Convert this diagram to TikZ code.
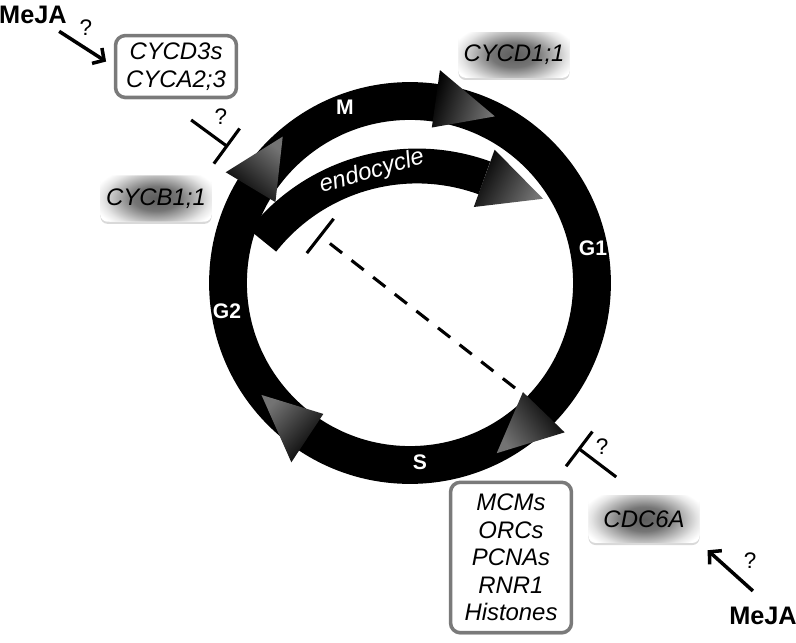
\documentclass[tikz,border=0pt]{standalone}
\usepackage{fontspec}
\setmainfont{Liberation Sans}
\usetikzlibrary{arrows.meta,shadows}

\pgfdeclareradialshading{glow}{\pgfpoint{0bp}{0bp}}{%
  color(0bp)=(black!64); color(9bp)=(black!54); color(21bp)=(black!10); color(25bp)=(white); color(50bp)=(white)}

% base angle, tip angle, tip radius, shading angle
\newcommand{\cyclehead}[4]{%
  \shade[headshade, shading angle=#4] (#1:157) -- (#1:215) -- (#2:#3) -- cycle;}

\begin{document}
\begin{tikzpicture}[x=0.025cm, y=-0.025cm,
    bigtext/.style={font=\itshape\fontsize{17}{19.5}\selectfont},
    framebox/.style={bigtext, draw=black!52, line width=2.5pt, fill=white,
      rounded corners=7pt, align=center, inner sep=0pt,
      drop shadow={shadow xshift=0pt, shadow yshift=-1.5pt, opacity=.3}},
    glowbox/.style={bigtext, fill=white, rounded corners=5pt, inner sep=0pt,
      drop shadow={shadow xshift=0pt, shadow yshift=-1.5pt, opacity=.3},
      path picture={\shade[shading=glow] (path picture bounding box.center)
        ellipse [x radius=45pt, y radius=24pt];}},
    phase/.style={text=white, font=\bfseries\fontsize{15}{17}\selectfont},
    hormone/.style={font=\bfseries\fontsize{18}{21}\selectfont},
    query/.style={font=\fontsize{16}{18}\selectfont, inner sep=0pt},
    headshade/.style={bottom color=black, top color=black!55},
    actarrow/.style={line width=2.5pt, -{Straight Barb[length=6pt, width=13pt]}},
    inhib/.style={line width=2.2pt, -{Bar[width=31pt]}}
  ]
  \useasboundingbox (0,0) rectangle (796,643);

  % cell cycle ring
  \begin{scope}[shift={(410,283)}, yscale=-1]
    \draw[line width=26.9pt] (0,0) circle (182);
    \cyclehead{149}{131}{194}{-40}
    \cyclehead{82}{63}{187}{-107.5}
    \cyclehead{-44}{-63}{191}{126.5}
    \cyclehead{-123.5}{-143}{186}{46.75}
  \end{scope}

  % endocycle
  \begin{scope}[shift={(417,363)}, yscale=-1]
    \draw[line width=24.8pt] (141.6:197) arc[start angle=141.6, end angle=70, radius=197];
    \shade[headshade, shading angle=-118.75] (70:166) -- (70:227) -- (52.5:207) -- cycle;
  \end{scope}
  \node[text=white, font=\itshape\fontsize{17}{19}\selectfont, rotate=16] (endolbl) at (372,172) {endocycle};

  \node[phase] (lblm) at (345,107) {M};
  \node[phase] (lblgone) at (593,248) {G1};
  \node[phase] (lblgtwo) at (227,311) {G2};
  \node[phase] (lbls) at (420,462) {S};

  % boxes
  \node[framebox, minimum width=86pt, minimum height=44pt] (cycbox) at (176,66.5) {CYCD3s\\CYCA2;3};
  \node[framebox, minimum width=86pt, minimum height=107pt] (repbox) at (511,557.5) {MCMs\\ORCs\\PCNAs\\RNR1\\Histones};
  \node[glowbox, minimum width=79pt, minimum height=32.5pt] (cycdone) at (514,55) {CYCD1;1};
  \node[glowbox, minimum width=79pt, minimum height=33pt] (cycbone) at (156,198.5) {CYCB1;1};
  \node[glowbox, minimum width=79pt, minimum height=34pt] (cdcbox) at (644,519) {CDC6A};

  \node[hormone] (mejatop) at (33,14.5) {MeJA};
  \node[hormone] (mejabot) at (763,616) {MeJA};

  \coordinate (bartop) at (228,147);
  \coordinate (barbot) at (578,448);
  \coordinate (endobar) at (319,235);
  \coordinate (gonemark) at (515,388);

  % arrows
  \draw[actarrow, shorten <=4pt, shorten >=6.5pt] (mejatop) -- (cycbox.west);
  \draw[actarrow, shorten <=12pt, shorten >=7.5pt] (mejabot.80) -- (cdcbox.south east);
  \draw[inhib, shorten <=25pt] (cycbox.248) -- (bartop);
  \draw[inhib, shorten <=21pt] (cdcbox.100) -- (barbot);
  \draw[inhib, dash pattern=on 11pt off 8.5pt] (gonemark) -- (endobar);

  \node[query] (qa) at (86,28) {?};
  \node[query] (qb) at (221,117) {?};
  \node[query] (qc) at (602,447) {?};
  \node[query] (qd) at (750,561) {?};
\end{tikzpicture}
\end{document}
